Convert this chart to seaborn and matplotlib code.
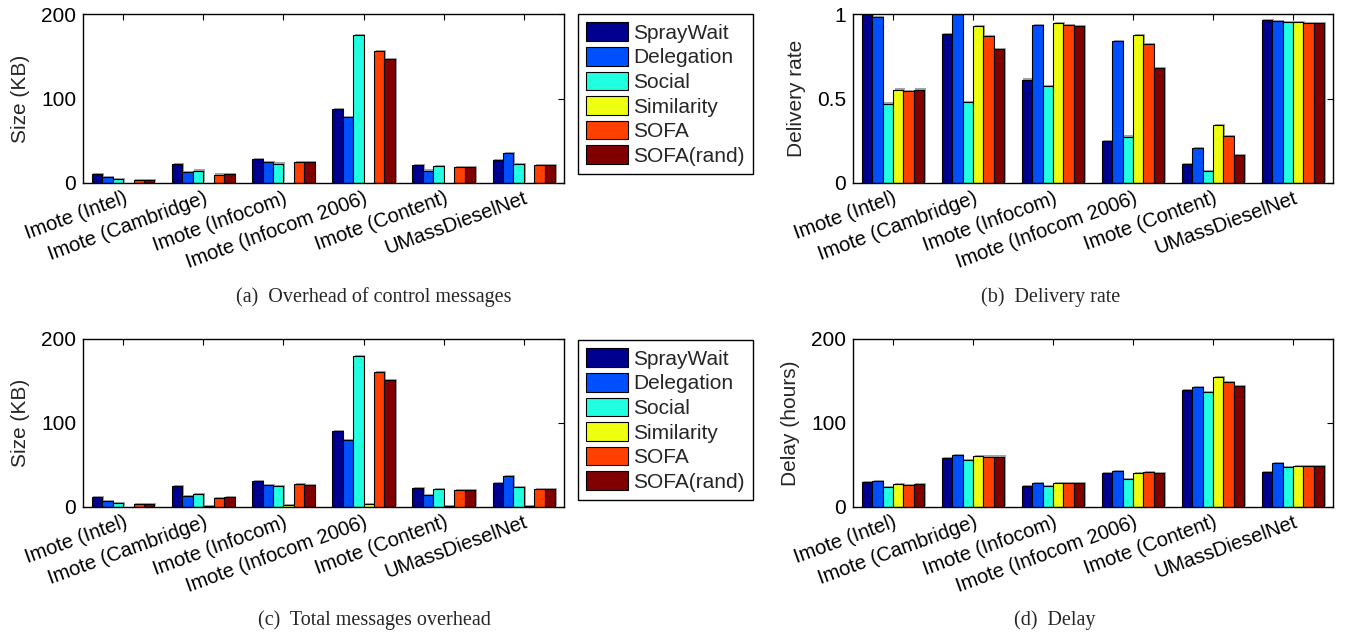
import matplotlib
matplotlib.use("Agg")
import matplotlib.pyplot as plt
import matplotlib.patheffects as pe
from matplotlib.patches import Patch
import pandas as pd
import seaborn as sns

# ---------------- data ----------------
categories = ["Imote (Intel)", "Imote (Cambridge)", "Imote (Infocom)",
              "Imote (Infocom 2006)", "Imote (Content)", "UMassDieselNet"]
algorithms = ["SprayWait", "Delegation", "Social", "Similarity", "SOFA", "SOFA(rand)"]
colors = ["#00008F", "#0050FF", "#20FFDF", "#EFFF10", "#FF4000", "#800000"]

# (a) Overhead of control messages (KB)
control_spraywait = [10.7, 22.0, 28.0, 88.0, 21.0, 27.0]
control_delegation = [6.7, 12.7, 25.0, 78.4, 14.7, 35.6]
control_social = [4.8, 14.7, 23.0, 175.0, 19.8, 22.0]
control_similarity = [0, 0, 0, 0, 0, 0]
control_sofa = [3.6, 10.0, 25.3, 156.4, 19.0, 21.0]
control_sofa_rand = [3.6, 10.7, 25.0, 146.5, 18.6, 21.0]

# (b) Delivery rate
delivery_spraywait = [1.0, 0.883, 0.612, 0.25, 0.111, 0.966]
delivery_delegation = [0.98, 1.0, 0.937, 0.842, 0.206, 0.958]
delivery_social = [0.47, 0.48, 0.574, 0.275, 0.071, 0.95]
delivery_similarity = [0.553, 0.927, 0.949, 0.875, 0.345, 0.95]
delivery_sofa = [0.543, 0.869, 0.937, 0.824, 0.277, 0.945]
delivery_sofa_rand = [0.553, 0.792, 0.927, 0.681, 0.164, 0.945]

# (c) Total messages overhead (KB)
total_spraywait = [12.3, 24.6, 30.6, 90.5, 22.6, 29.0]
total_delegation = [7.1, 13.1, 25.8, 79.4, 14.7, 36.5]
total_social = [5.2, 15.5, 25.0, 179.4, 21.0, 23.4]
total_similarity = [0.3, 1.0, 2.0, 3.6, 0.8, 1.2]
total_sofa = [4.0, 10.7, 27.4, 160.7, 20.2, 21.4]
total_sofa_rand = [4.0, 11.5, 26.6, 150.8, 20.2, 21.4]

# (d) Delay (hours)
delay_spraywait = [30.2, 58.0, 24.6, 40.5, 138.9, 41.3]
delay_delegation = [31.0, 61.5, 29.0, 42.9, 143.3, 52.0]
delay_social = [23.8, 55.6, 25.0, 33.3, 137.3, 48.0]
delay_similarity = [27.4, 60.3, 28.6, 40.5, 155.2, 48.8]
delay_sofa = [26.6, 60.0, 29.0, 41.3, 148.8, 49.2]
delay_sofa_rand = [27.4, 60.0, 29.0, 40.5, 144.4, 48.8]

panels = [
    ([control_spraywait, control_delegation, control_social, control_similarity,
      control_sofa, control_sofa_rand], "Size (KB)", (0, 200), [0, 100, 200], ["0", "100", "200"]),
    ([delivery_spraywait, delivery_delegation, delivery_social, delivery_similarity,
      delivery_sofa, delivery_sofa_rand], "Delivery rate", (0, 1), [0, 0.5, 1], ["0", "0.5", "1"]),
    ([total_spraywait, total_delegation, total_social, total_similarity,
      total_sofa, total_sofa_rand], "Size (KB)", (0, 200), [0, 100, 200], ["0", "100", "200"]),
    ([delay_spraywait, delay_delegation, delay_social, delay_similarity,
      delay_sofa, delay_sofa_rand], "Delay (hours)", (0, 200), [0, 100, 200], ["0", "100", "200"]),
]
captions = ["(a)  Overhead of control messages", "(b)  Delivery rate",
            "(c)  Total messages overhead", "(d)  Delay"]

# ---------------- style ----------------
sns.set_theme(style="white")
plt.rcParams["font.family"] = ["Liberation Sans", "DejaVu Sans"]

W, H = 1345, 637
fig = plt.figure(figsize=(W / 100, H / 100), dpi=100)
fig.patch.set_facecolor("white")

rects = [
    (83, 183, 481, 169),
    (853, 183, 480, 169),
    (83, 507, 481, 168),
    (853, 507, 480, 168),
]

shadow = [pe.SimplePatchShadow(offset=(1.2, 0.8), shadow_rgbFace="0.55", alpha=0.8), pe.Normal()]

for (series, ylabel, ylim, yticks, yticklabels), (l, b, w, h) in zip(panels, rects):
    ax = fig.add_axes([l / W, 1 - b / H, w / W, h / H])
    rows = []
    for alg, vals in zip(algorithms, series):
        for cat, v in zip(categories, vals):
            rows.append({"dataset": cat, "value": v, "algorithm": alg})
    df = pd.DataFrame(rows)
    sns.barplot(data=df, x="dataset", y="value", hue="algorithm",
                order=categories, hue_order=algorithms, palette=colors,
                edgecolor="black", linewidth=0.8, width=0.78, saturation=1,
                legend=False, ax=ax)
    for p in ax.patches:
        p.set_path_effects(shadow)
    ax.set_xlim(-0.5, 5.5)
    ax.set_ylim(*ylim)
    ax.set_yticks(yticks)
    ax.set_yticklabels(yticklabels)
    ax.set_xlabel("")
    ax.set_ylabel(ylabel, fontsize=15, labelpad=8)
    ax.set_xticks(range(len(categories)))
    ax.set_xticklabels(categories, rotation=20, ha="right", rotation_mode="anchor")
    ax.tick_params(axis="both", direction="in", top=True, right=True,
                   length=4, width=0.8, colors="black")
    ax.tick_params(axis="y", labelsize=15, pad=5)
    ax.tick_params(axis="x", labelsize=14.5, pad=4)
    for s in ax.spines.values():
        s.set_visible(True)
        s.set_color("black")
        s.set_linewidth(1.0)
    ax.set_facecolor("white")

handles = [Patch(facecolor=c, edgecolor="black", linewidth=0.8, label=a)
           for a, c in zip(algorithms, colors)]
for top in (14, 340):
    leg = fig.legend(handles=handles, loc="upper left",
                     bbox_to_anchor=(578 / W, 1 - top / H), bbox_transform=fig.transFigure,
                     frameon=True, fancybox=False, edgecolor="black", framealpha=1,
                     fontsize=15, handlelength=2.0, handleheight=1.0,
                     handletextpad=0.25, labelspacing=0.2, borderpad=0.4,
                     borderaxespad=0)
    leg.get_frame().set_linewidth(1.0)

cap_pos = [(374, 297), (1051, 297), (374, 620), (1055, 620)]
for text, (x, y) in zip(captions, cap_pos):
    fig.text(x / W, 1 - y / H, text, ha="center", va="center",
             fontsize=14.5, family=["Liberation Serif", "DejaVu Serif"])

fig.savefig("out.png", dpi=100, facecolor="white")
